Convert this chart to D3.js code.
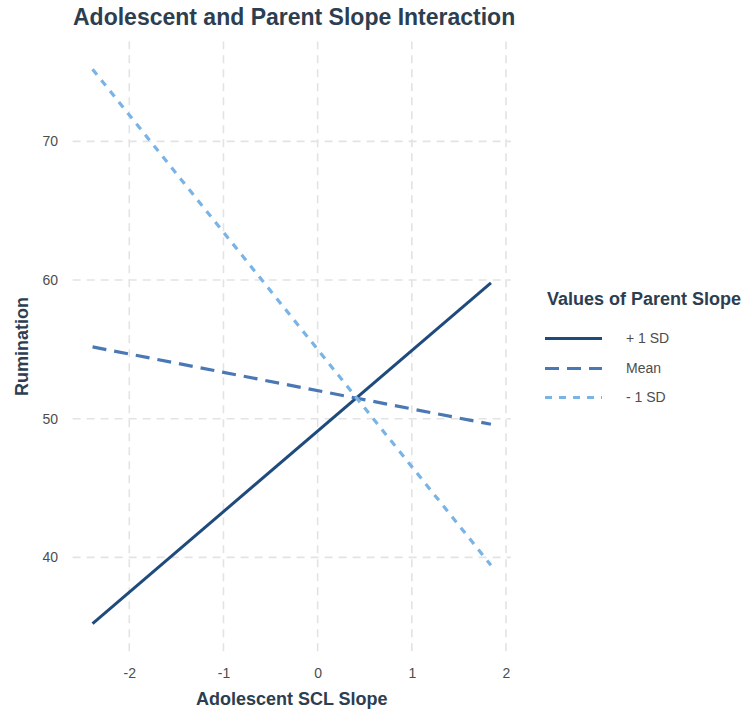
<!DOCTYPE html>
<html>
<head>
<meta charset="utf-8">
<script src="https://cdn.jsdelivr.net/npm/d3@7"></script>
<style>
  html, body { margin: 0; padding: 0; background: #ffffff; }
  svg { display: block; font-family: "Liberation Sans", Arial, Helvetica, sans-serif; }
</style>
</head>
<body>
<svg id="chart" width="743" height="712"></svg>
<script>
// ---- data ----
const xEnds = [-2.39, 1.84];
const plusSD = [35.23, 59.79];
const meanVals = [55.18, 49.60];
const minusSD = [75.20, 39.44];
const seriesNames = ["+ 1 SD", "Mean", "- 1 SD"];
const xTicks = [-2, -1, 0, 1, 2];
const yTicks = [40, 50, 60, 70];

const series = [
  { name: seriesNames[0], values: plusSD, color: "#1f4a7c", dash: null, width: 3 },
  { name: seriesNames[1], values: meanVals, color: "#4a78b4", dash: "14,8", width: 3.2 },
  { name: seriesNames[2], values: minusSD, color: "#7ab3e6", dash: "7,7", width: 3.2 }
];

const svg = d3.select("#chart");
const x = d3.scaleLinear().domain([-2.602, 2.052]).range([72.6, 510.9]);
const y = d3.scaleLinear().domain([33.23, 77.2]).range([651.3, 41.5]);

const textDark = "#2c3e50";
const tickColor = "#4d4d4d";
const gridColor = "#e3e3e3";

// grid
const grid = svg.append("g");
grid.selectAll("line.v").data(xTicks).enter().append("line")
  .attr("x1", d => x(d)).attr("x2", d => x(d))
  .attr("y1", y.range()[0]).attr("y2", y.range()[1])
  .attr("stroke", gridColor).attr("stroke-width", 1.6).attr("stroke-dasharray", "8,6");
grid.selectAll("line.h").data(yTicks).enter().append("line")
  .attr("y1", d => y(d)).attr("y2", d => y(d))
  .attr("x1", x.range()[0]).attr("x2", x.range()[1])
  .attr("stroke", gridColor).attr("stroke-width", 1.6).attr("stroke-dasharray", "8,6");

// axes (labels only)
const xAxis = d3.axisBottom(x).tickValues(xTicks).tickSize(0).tickPadding(0).tickFormat(d => String(d));
const gx = svg.append("g").attr("transform", `translate(0,${y.range()[0] + 17})`).call(xAxis);
gx.select(".domain").remove();
gx.selectAll("text").attr("font-size", 14).attr("fill", tickColor)
  .attr("font-family", "Liberation Sans, Arial, sans-serif").attr("dy", "0.71em");

const yAxis = d3.axisLeft(y).tickValues(yTicks).tickSize(0).tickPadding(0).tickFormat(d => String(d));
const gy = svg.append("g").attr("transform", `translate(58,0)`).call(yAxis);
gy.select(".domain").remove();
gy.selectAll("text").attr("font-size", 14).attr("fill", tickColor)
  .attr("font-family", "Liberation Sans, Arial, sans-serif");

// lines
const line = d3.line().x((d, i) => x(xEnds[i])).y(d => y(d));
svg.append("g").selectAll("path").data(series).enter().append("path")
  .attr("d", d => line(d.values))
  .attr("fill", "none")
  .attr("stroke", d => d.color)
  .attr("stroke-width", d => d.width)
  .attr("stroke-dasharray", d => d.dash);

// titles
svg.append("text").attr("x", 73).attr("y", 24.5)
  .attr("font-size", 23).attr("font-weight", "bold").attr("fill", textDark)
  .text("Adolescent and Parent Slope Interaction");

svg.append("text").attr("x", (x.range()[0] + x.range()[1]) / 2).attr("y", 705)
  .attr("text-anchor", "middle").attr("font-size", 18).attr("font-weight", "bold").attr("fill", textDark)
  .text("Adolescent SCL Slope");

svg.append("text")
  .attr("transform", `translate(28,${(y.range()[0] + y.range()[1]) / 2}) rotate(-90)`)
  .attr("text-anchor", "middle").attr("font-size", 18).attr("font-weight", "bold").attr("fill", textDark)
  .text("Rumination");

// legend
const legend = svg.append("g");
legend.append("text").attr("x", 547).attr("y", 305)
  .attr("font-size", 18).attr("font-weight", "bold").attr("fill", textDark)
  .text("Values of Parent Slope");
const keyY = [338.5, 368.5, 397.5];
const items = legend.selectAll("g.item").data(series).enter().append("g");
items.append("line")
  .attr("x1", 545).attr("x2", 602)
  .attr("y1", (d, i) => keyY[i]).attr("y2", (d, i) => keyY[i])
  .attr("stroke", d => d.color).attr("stroke-width", d => d.width)
  .attr("stroke-dasharray", d => d.dash);
items.append("text")
  .attr("x", 626).attr("y", (d, i) => keyY[i]).attr("dy", "0.35em")
  .attr("font-size", 14).attr("fill", tickColor)
  .text(d => d.name);
</script>
</body>
</html>
